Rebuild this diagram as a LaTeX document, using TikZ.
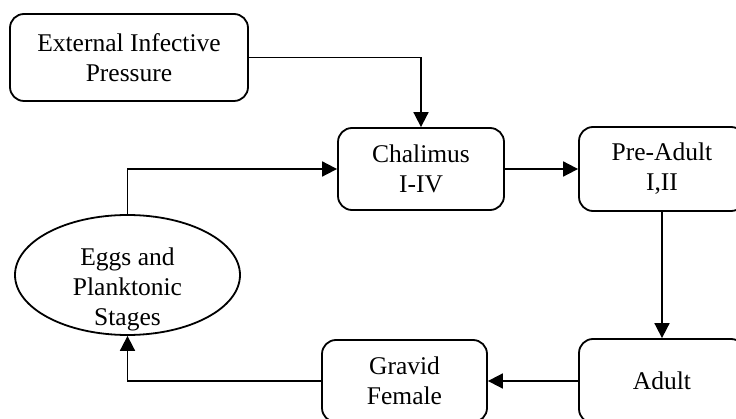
\documentclass[tikz,border=0pt]{standalone}
\usepackage{fontspec}
\setmainfont{Liberation Serif}
\usetikzlibrary{arrows.meta,shapes.geometric}

\tikzset{
	stage/.style={draw,rounded corners=14pt,line width=1.8pt,fill=white,align=center,inner sep=0,font=\fontsize{25.5}{30}\selectfont},
	link/.style={line width=1.8pt,-{Triangle[length=15pt,width=15pt]}}
}

\begin{document}
\begin{tikzpicture}[x=1pt,y=-1pt]
			\useasboundingbox (0,0) rectangle (736,419);
			\clip (0,0) rectangle (736,419);
			%\draw[help lines,step=50] (0,0) grid (736,419);
			\node[stage,minimum width=238pt,minimum height=87pt] (ext) at (129,57.5) {External Infective\\Pressure};
			\node[stage,minimum width=166pt,minimum height=82pt] (chal) at (421,169) {Chalimus\\I-IV};
			\node[stage,minimum width=166pt,minimum height=84pt] (pre) at (662,169) {Pre-Adult\\I,II};
			\node[stage,minimum width=166pt,minimum height=84pt] (adult) at (662,381) {Adult};
			\node[stage,minimum width=165pt,minimum height=82pt] (gravid) at (404.5,381) {Gravid\\Female};
			\node[draw,ellipse,line width=1.8pt,fill=white,minimum width=225pt,minimum height=120pt] (eggs) at (127.5,275) {};
			\node[align=center,inner sep=0,font=\fontsize{25.5}{30}\selectfont] (eggstext) at (127.5,289) {Eggs and\\Planktonic\\Stages};
			\draw[link] (ext.east) -| (chal.north);
			\draw[link] (chal.east) -- (pre.west);
			\draw[link] (pre.south) -- (adult.north);
			\draw[link] (adult.west) -- (gravid.east);
			\draw[link] (gravid.west) -| (eggs.south);
			\draw[link] (eggs.north) |- (chal.west);
		\end{tikzpicture}
\end{document}
